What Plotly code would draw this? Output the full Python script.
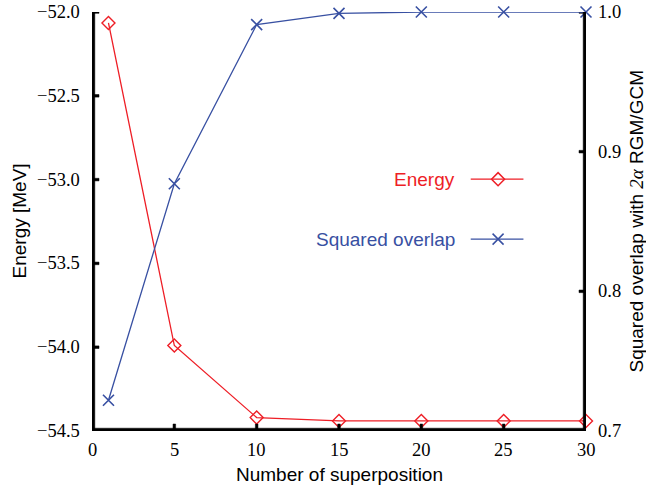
import plotly.graph_objects as go

# Number of superposed basis states
n_superposition = [1, 5, 10, 15, 20, 25, 30]
# Ground-state energy [MeV]
energy = [-52.065, -53.99, -54.42, -54.44, -54.44, -54.44, -54.44]
# Squared overlap with the 2alpha RGM/GCM solution
overlap = [0.722, 0.877, 0.991, 0.999, 1.0, 1.0, 1.0]

energy_ticks = [-52.0, -52.5, -53.0, -53.5, -54.0, -54.5]
overlap_ticks = [0.7, 0.8, 0.9, 1.0]
x_ticks = [0, 5, 10, 15, 20, 25, 30]

X_RANGE = [0, 30]
E_RANGE = [-54.5, -52.0]
O_RANGE = [0.7, 1.0]

RED = "rgb(238,30,38)"
BLUE = "rgb(56,80,162)"
INK = "rgb(0,0,0)"
TICK_SIZE = 18.5
TEXT_SIZE = 19
PLOT_W, PLOT_H = 494, 419          # plot area in px
TICK_LEN = 7                       # px
FRAME_T = 2.8                      # frame thickness, px
TICK_T = 2.6                       # tick thickness, px

# one pixel in the units of each axis
PX_X = (X_RANGE[1] - X_RANGE[0]) / PLOT_W
PX_Y3 = 1.0 / PLOT_H
PX_E = (E_RANGE[1] - E_RANGE[0]) / PLOT_H
PX_O = (O_RANGE[1] - O_RANGE[0]) / PLOT_H


def serif(s):
    return f'<span style="font-family:Liberation Serif">{s}</span>'


def sans(s):
    return f'<span style="font-family:Liberation Sans">{s}</span>'


def tick_text(v):
    return serif(f"{v:.1f}".replace("-", "\u2212"))


fig = go.Figure()


def bar(x0, x1, y0, y1, yaxis):
    """Solid black rectangle used for the frame and tick marks."""
    fig.add_trace(go.Scatter(x=[x0, x1, x1, x0, x0], y=[y0, y0, y1, y1, y0],
                             mode="lines", fill="toself", fillcolor=INK,
                             line=dict(color=INK, width=0.5), yaxis=yaxis,
                             showlegend=False, hoverinfo="skip"))


# Frame: left, right and bottom axis lines (y3 is a 0-1 helper axis)
bar(X_RANGE[0], X_RANGE[0] + FRAME_T * PX_X, 0, 1, "y3")
bar(X_RANGE[1] - FRAME_T * PX_X, X_RANGE[1], 0, 1, "y3")
bar(X_RANGE[0], X_RANGE[1], 0, FRAME_T * PX_Y3, "y3")

# Inward ticks with labels
for v in x_ticks:
    bar(v - TICK_T / 2 * PX_X, v + TICK_T / 2 * PX_X, 0, TICK_LEN * PX_Y3, "y3")
    fig.add_annotation(x=v, y=0, xref="x", yref="paper", text=serif(str(v)), showarrow=False,
                       xanchor="center", yanchor="middle", yshift=-19,
                       font=dict(size=TICK_SIZE, color=INK))
for v in energy_ticks:
    bar(X_RANGE[0], X_RANGE[0] + TICK_LEN * PX_X,
        v - TICK_T / 2 * PX_E, v + TICK_T / 2 * PX_E, "y")
    fig.add_annotation(x=0, y=v, xref="paper", yref="y", text=tick_text(v), showarrow=False,
                       xanchor="right", yanchor="middle", xshift=-10,
                       font=dict(size=TICK_SIZE, color=INK))
for v in overlap_ticks:
    bar(X_RANGE[1] - TICK_LEN * PX_X, X_RANGE[1],
        v - TICK_T / 2 * PX_O, v + TICK_T / 2 * PX_O, "y2")
    fig.add_annotation(x=1, y=v, xref="paper", yref="y2", text=tick_text(v), showarrow=False,
                       xanchor="left", yanchor="middle", xshift=10,
                       font=dict(size=TICK_SIZE, color=INK))

# Data series
fig.add_trace(go.Scatter(
    x=n_superposition, y=energy, mode="lines+markers", name="Energy",
    line=dict(color=RED, width=1.3),
    marker=dict(symbol="diamond-open", size=10, color=RED, line=dict(width=1.4, color=RED)),
    cliponaxis=False, yaxis="y",
))
fig.add_trace(go.Scatter(
    x=n_superposition, y=overlap, mode="lines+markers", name="Squared overlap",
    line=dict(color=BLUE, width=1.3),
    marker=dict(symbol="x-thin-open", size=11, color=BLUE, line=dict(width=1.6, color=BLUE)),
    cliponaxis=False, yaxis="y2",
))

# Legend keys: text sits left of each sample
legend_items = [("Energy", RED, "diamond-open", 10, 0.601),
                ("Squared overlap", BLUE, "x-thin-open", 11, 0.458)]
key_x = [23.0, 24.66, 26.2]
for label, color, symbol, size, ypos in legend_items:
    fig.add_trace(go.Scatter(
        x=key_x, y=[ypos] * 3, mode="lines", line=dict(color=color, width=1.3),
        yaxis="y3", showlegend=False, hoverinfo="skip",
    ))
    fig.add_trace(go.Scatter(
        x=[key_x[1]], y=[ypos], mode="markers",
        marker=dict(symbol=symbol, size=size, color=color, line=dict(width=1.5, color=color)),
        yaxis="y3", showlegend=False, hoverinfo="skip",
    ))
    fig.add_annotation(
        x=0.739, y=ypos, xref="paper", yref="paper", text=sans(label), showarrow=False,
        xanchor="right", yanchor="middle", font=dict(size=TEXT_SIZE, color=color),
    )

# Axis titles
title_font = dict(size=TEXT_SIZE, color=INK)
fig.add_annotation(x=0.5, y=0, xref="paper", yref="paper", text=sans("Number of superposition"),
                   showarrow=False, xanchor="center", yanchor="middle", yshift=-43,
                   font=title_font)
fig.add_annotation(x=0, y=0.5, xref="paper", yref="paper", text=sans("Energy [MeV]"),
                   showarrow=False, textangle=-90, xanchor="center", yanchor="middle",
                   xshift=-73, font=title_font)
fig.add_annotation(
    x=1, y=0.5, xref="paper", yref="paper",
    text=sans("Squared overlap with ") + serif("<i>2α</i>") + sans(" RGM/GCM"),
    showarrow=False, textangle=-90, xanchor="center", yanchor="middle", xshift=50,
    font=title_font,
)

hidden = dict(showline=False, ticks="", showticklabels=False, showgrid=False,
              zeroline=False, fixedrange=True)

fig.update_layout(
    template="simple_white",
    width=646, height=492,
    margin=dict(l=92, r=60, t=12, b=61),
    paper_bgcolor="white", plot_bgcolor="white",
    showlegend=False,
    font=dict(family="Liberation Sans"),
    xaxis=dict(range=X_RANGE, **hidden),
    yaxis=dict(range=E_RANGE, **hidden),
    yaxis2=dict(range=O_RANGE, overlaying="y", side="right", **hidden),
    yaxis3=dict(range=[0, 1], overlaying="y", **hidden),
)

fig.write_html("out.html")
